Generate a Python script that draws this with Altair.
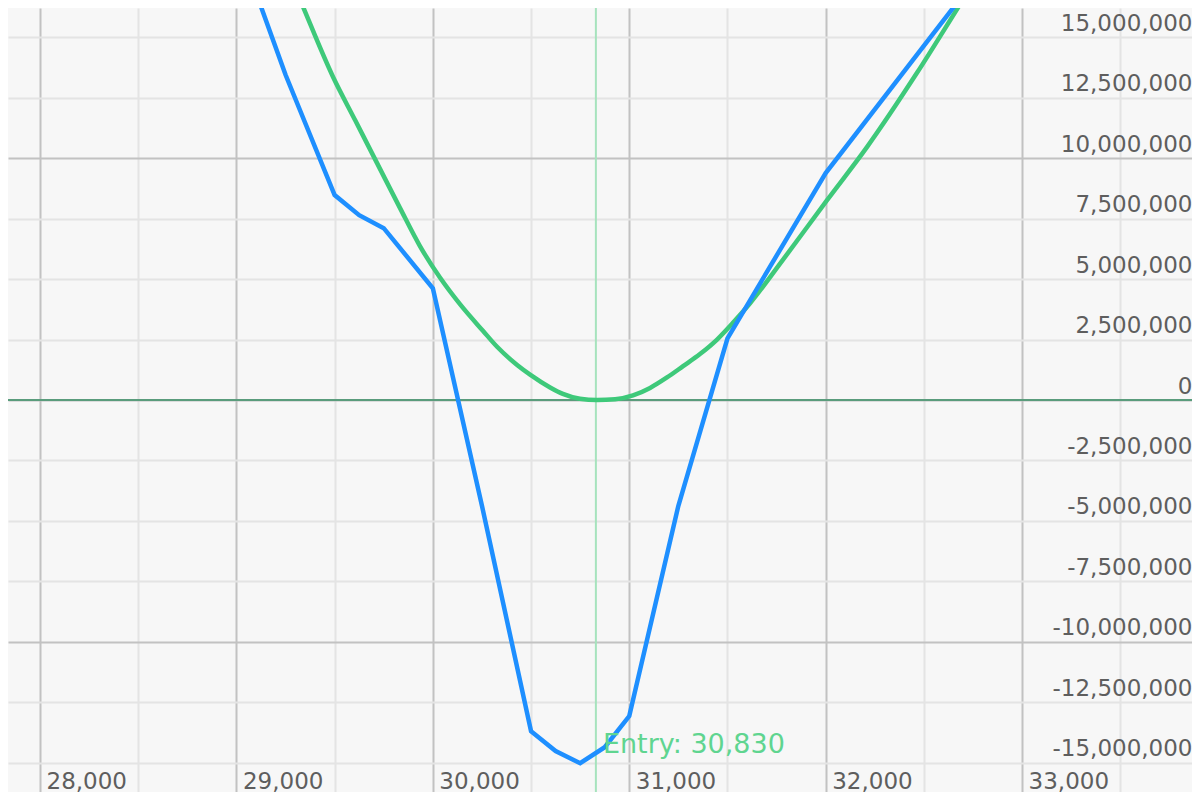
import altair as alt
import pandas as pd

# ---- data ----
blue_x = [29000, 29250, 29500, 29625, 29750, 30000, 30250, 30500, 30625,
          30750, 30875, 31000, 31250, 31500, 32000, 33000]
blue_y = [19.07, 13.44, 8.47, 7.64, 7.10, 4.62, -4.37, -13.69, -14.51,
          -15.01, -14.35, -13.06, -4.37, 2.55, 9.38, 19.9]

green_x = [29237, 29324, 29492, 29604, 29716, 29833, 29935, 30037, 30139,
           30256, 30327, 30429, 30495, 30597, 30662, 30749, 30836, 30928,
           31019, 31106, 31192, 31274, 31360, 31447, 31529, 31615, 31783,
           32007, 32211, 32465, 32699, 32837]
green_y = [18.2, 16.54, 13.35, 11.57, 9.79, 7.93, 6.35, 5.05, 3.95,
           2.85, 2.2, 1.45, 1.05, 0.52, 0.25, 0.05, 0.0, 0.03,
           0.19, 0.5, 0.93, 1.4, 1.9, 2.5, 3.2, 4.0, 5.8,
           8.26, 10.46, 13.52, 16.54, 18.3]

entry_price = 30830
entry_label = ["Entry: 30,830"]
label_y = [-14.6]

x_ticks = list(range(28000, 34000, 500))
y_ticks = [v * 2500000 for v in range(-6, 7)]

blue_df = pd.DataFrame({"price": blue_x, "pnl": [v * 1e6 for v in blue_y]})
green_df = pd.DataFrame({"price": green_x, "pnl": [v * 1e6 for v in green_y]})
entry_df = pd.DataFrame({"price": [entry_price], "pnl": [label_y[0] * 1e6],
                         "label": entry_label})
zero_df = pd.DataFrame({"price": [entry_price], "pnl": [0]})

FONT = "DejaVu Sans"
FS = 23

xscale = alt.Scale(domain=[27837, 33865], nice=False, zero=False)
yscale = alt.Scale(domain=[-16.2e6, 16.2e6], nice=False, zero=False)

xaxis = alt.Axis(
    values=x_ticks, title=None, orient="bottom", domain=False, ticks=False,
    labelExpr="datum.value % 1000 === 0 ? format(datum.value, ',') : ''",
    labelAlign="left", labelBaseline="alphabetic", labelPadding=-4,
    labelOffset=6, labelFlush=False, labelOverlap=False, labelBound=False,
    labelFont=FONT, labelFontSize=FS, labelColor="#5e5e5e",
    grid=True, gridWidth=2,
    gridColor={"condition": {"test": "datum.value % 1000 === 0", "value": "#c2c2c2"},
               "value": "#e4e4e4"},
)
yaxis = alt.Axis(
    values=y_ticks, title=None, orient="right", domain=False, ticks=False,
    labelExpr="replace(format(datum.value, ','), '\u2212', '-')",
    labelAlign="right", labelBaseline="alphabetic", labelPadding=0,
    labelOffset=-7, labelFlush=False, labelOverlap=False, labelBound=False,
    labelFont=FONT, labelFontSize=FS, labelColor="#5e5e5e",
    grid=True, gridWidth=2,
    gridColor={"condition": {"test": "datum.value % 10000000 === 0", "value": "#c2c2c2"},
               "value": "#e4e4e4"},
)

X = alt.X("price:Q", scale=xscale, axis=xaxis)
Y = alt.Y("pnl:Q", scale=yscale, axis=yaxis)

entry_rule = alt.Chart(entry_df).mark_rule(color="#a6e3bd", strokeWidth=2).encode(x=X)

zero_rule = alt.Chart(zero_df).mark_rule(color="#5a9c7c", strokeWidth=2).encode(y=Y)

green_line = alt.Chart(green_df).mark_line(
    color="#3ec97a", strokeWidth=4.5, clip=True, interpolate="monotone").encode(
    x=X, y=Y, order="price:Q")

blue_line = alt.Chart(blue_df).mark_line(
    color="#1e8fff", strokeWidth=4.5, clip=True).encode(
    x=X, y=Y, order="price:Q")

entry_text = alt.Chart(entry_df).mark_text(
    align="left", baseline="alphabetic", dx=7, font=FONT, fontSize=27,
    color="#5fd590").encode(x=X, y=Y, text="label:N")

chart = alt.layer(entry_rule, zero_rule, green_line, blue_line,
                  entry_text).properties(
    width=1184, height=784,
    autosize=alt.AutoSizeParams(type="none"),
    padding=0,
    background="#f7f7f7",
).configure_view(stroke="transparent", fill="#f7f7f7")

chart.save("out.html", embed_options={"renderer": "svg", "actions": False})
